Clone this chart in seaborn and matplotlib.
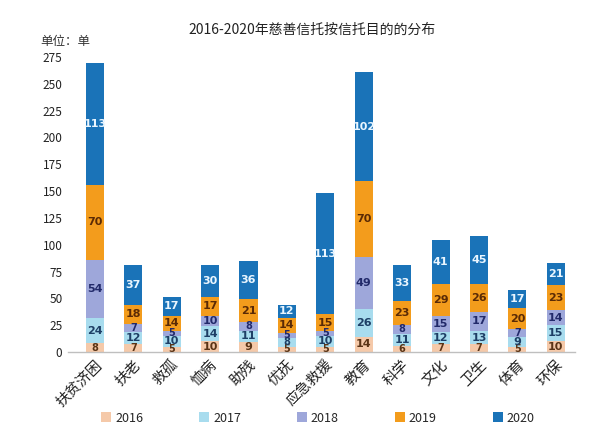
import numpy as np
import pandas as pd
import matplotlib
matplotlib.use("Agg")
import matplotlib.pyplot as plt
import seaborn as sns
from matplotlib.patches import Patch

categories = ["扶贫济困", "扶老", "救孤", "恤病", "助残", "优抚", "应急救援",
              "教育", "科学", "文化", "卫生", "体育", "环保"]
y2016 = [8, 7, 5, 10, 9, 5, 5, 14, 6, 7, 7, 5, 10]
y2017 = [24, 12, 10, 14, 11, 8, 10, 26, 11, 12, 13, 9, 15]
y2018 = [54, 7, 5, 10, 8, 5, 5, 49, 8, 15, 17, 7, 14]
y2019 = [70, 18, 14, 17, 21, 14, 15, 70, 23, 29, 26, 20, 23]
y2020 = [113, 37, 17, 30, 36, 12, 113, 102, 33, 41, 45, 17, 21]
years = ["2016", "2017", "2018", "2019", "2020"]
series = [y2016, y2017, y2018, y2019, y2020]
yticks = list(range(0, 276, 25))

colors = ["#F5C9A9", "#A8DCEE", "#9EA7DA", "#F39C1C", "#1A73B8"]
label_colors = ["#5A3416", "#1E3F66", "#222A6A", "#5A2A05", "#EAF6FF"]

sns.set_theme(style="white")
plt.rcParams["font.family"] = ["Noto Sans CJK SC", "DejaVu Sans"]

fig = plt.figure(figsize=(6, 4.29), dpi=100)
ax = fig.add_axes([68/600, 1-352/429, 507/600, 295/429])

cum = np.cumsum(np.array(series), axis=0)
df = pd.DataFrame({"cat": categories})
for i in range(len(years) - 1, -1, -1):
    df["v"] = cum[i]
    sns.barplot(data=df, x="cat", y="v", color=colors[i], saturation=1,
                width=0.47, ax=ax, order=categories, edgecolor="none")

for i, s in enumerate(series):
    base = cum[i] - np.array(s)
    for j, v in enumerate(s):
        fs = 8 if v >= 9 else 7
        ax.text(j, base[j] + v / 2, str(v), ha="center", va="center",
                fontsize=fs, color=label_colors[i], fontweight="semibold",
                family="DejaVu Sans")

ax.set_xlim(-0.7, 12.5)
ax.set_ylim(0, 275)
ax.set_yticks(yticks)
ax.set_yticklabels([str(t) for t in yticks], fontsize=8.5, color="#222222")
ax.set_xlabel("")
ax.set_ylabel("")
ax.set_xticks(range(len(categories)))
ax.set_xticklabels(categories, rotation=45, ha="right", rotation_mode="anchor",
                   fontsize=10.5, color="#222222")
ax.tick_params(axis="both", length=0, pad=4)
for sp in ["top", "right", "left"]:
    ax.spines[sp].set_visible(False)
ax.spines["bottom"].set_color("#BFBFBF")
ax.spines["bottom"].set_linewidth(1)

fig.text(0.52, 1-30/429, "2016-2020年慈善信托按信托目的的分布", ha="center",
         va="center", fontsize=10, color="#222222", fontweight="medium")
fig.text(40/600, 1-42/429, "单位：单", ha="left", va="center", fontsize=9,
         color="#333333")

handles = [Patch(facecolor=c, edgecolor="none") for c in colors]
fig.legend(handles, years, loc="center", bbox_to_anchor=(0.53, 1-418/429),
           ncol=5, frameon=False, fontsize=9, handlelength=0.8,
           handleheight=0.8, columnspacing=4.5, handletextpad=0.3)

fig.savefig("out.png", dpi=100)
